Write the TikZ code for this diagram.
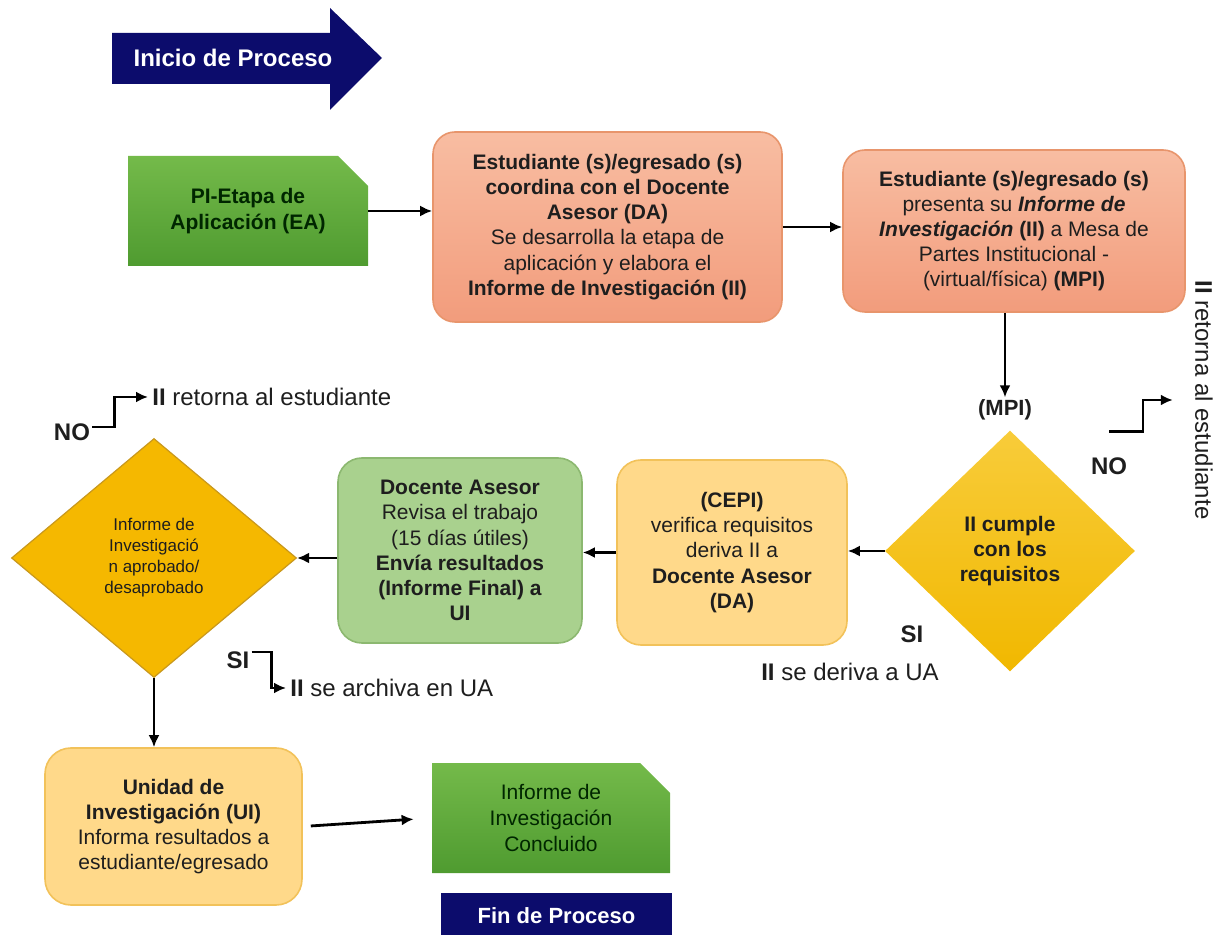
\documentclass[tikz,border=0pt]{standalone}
\usepackage{fontspec}
\setmainfont{Liberation Sans}
\usetikzlibrary{arrows.meta}
\usetikzlibrary{shapes.geometric}
\usetikzlibrary{shapes.misc}

\definecolor{navyblue}{HTML}{0C0C6C}
\definecolor{greentop}{HTML}{74BA4A}
\definecolor{greenbot}{HTML}{4F9B30}
\definecolor{salmontop}{HTML}{F8BDA2}
\definecolor{salmonbot}{HTML}{F29C7C}
\definecolor{salmonline}{HTML}{E8956C}
\definecolor{peach}{HTML}{FFD98A}
\definecolor{peachline}{HTML}{F2C25A}
\definecolor{sage}{HTML}{A9D18E}
\definecolor{sageline}{HTML}{8CB870}
\definecolor{goldtop}{HTML}{F8CC3A}
\definecolor{goldbot}{HTML}{F1B800}
\definecolor{amber}{HTML}{F5B800}
\definecolor{amberline}{HTML}{C9981C}
\definecolor{ink}{HTML}{1E1E1E}

\begin{document}
\begin{tikzpicture}[x=.5pt, y=-.5pt,
  txt/.style={font=\fontsize{10.5}{12.6}\selectfont, align=center, text=ink, inner sep=0pt},
  lbl/.style={font=\fontsize{12}{14}\selectfont, text=ink, inner sep=1pt},
  salmonbox/.style={txt, rounded corners=11pt, draw=salmonline, line width=.8pt, top color=salmontop, bottom color=salmonbot},
  peachbox/.style={txt, rounded corners=12pt, draw=peachline, line width=.8pt, fill=peach},
  sagebox/.style={txt, rounded corners=12pt, draw=sageline, line width=.8pt, fill=sage},
  greenbox/.style={txt, chamfered rectangle, chamfered rectangle corners=north east, chamfered rectangle xsep=6.5pt, chamfered rectangle ysep=8.5pt, top color=greentop, bottom color=greenbot, text=black!85!green},
  golddia/.style={txt, diamond, top color=goldtop, bottom color=goldbot},
  amberdia/.style={txt, diamond, fill=amber, draw=amberline, line width=.6pt},
  conn/.style={line width=1.4pt, -{Latex[length=6pt,width=5.5pt]}}]

\useasboundingbox (0,0) rectangle (1222,935);

\fill[navyblue] (112,33) -- (330,33) -- (330,8) -- (382,58) -- (330,110) -- (330,84) -- (112,84) -- cycle;
\node[lbl, text=white, font=\bfseries\fontsize{12}{14}\selectfont] (inicio) at (233,58) {Inicio de Proceso};

\node[greenbox, minimum width=120pt, minimum height=55pt] (etapa) at (248,211) {\textbf{PI-Etapa de}\\\textbf{Aplicación (EA)}};

\node[salmonbox, minimum width=174.5pt, minimum height=95pt] (coordina) at (607.5,227) {\textbf{Estudiante (s)/egresado (s)}\\\textbf{coordina con el Docente}\\\textbf{Asesor (DA)}\\Se desarrolla la etapa de\\aplicación y elabora el\\\textbf{Informe de Investigación (II)}};

\node[salmonbox, minimum width=171pt, minimum height=81pt] (presenta) at (1014,231) {\textbf{Estudiante (s)/egresado (s)}\\presenta su \textbf{\textit{Informe de}}\\\textbf{\textit{Investigación}} \textbf{(II)} a Mesa de\\Partes Institucional -\\(virtual/física) \textbf{(MPI)}};

\node[lbl, font=\bfseries\fontsize{11}{13}\selectfont] (mpi) at (1005,410) {(MPI)};

\node[golddia, minimum width=125pt, minimum height=120.5pt] (cumple) at (1010,551) {\textbf{II cumple}\\\textbf{con los}\\\textbf{requisitos}};

\node[lbl, font=\bfseries\fontsize{12}{14}\selectfont] (no1) at (1109,466) {NO};
\node[lbl, rotate=-90] (retorna1) at (1204,400) {\textbf{II} retorna al estudiante};
\node[lbl, font=\bfseries\fontsize{12}{14}\selectfont] (si1) at (912,634) {SI};
\node[lbl] (deriva) at (850,672) {\textbf{II} se deriva a UA};

\node[peachbox, minimum width=115pt, minimum height=92.5pt] (cepi) at (732,552.5) {\textbf{(CEPI)}\\verifica requisitos\\deriva II a\\\textbf{Docente Asesor}\\\textbf{(DA)}};

\node[sagebox, minimum width=122pt, minimum height=92.5pt] (asesor) at (460,550.5) {\textbf{Docente Asesor}\\Revisa el trabajo\\(15 días útiles)\\\textbf{Envía resultados}\\\textbf{(Informe Final) a}\\\textbf{UI}};

\node[amberdia, minimum width=142.5pt, minimum height=119.5pt, font=\fontsize{8.5}{10.5}\selectfont] (dictamen) at (154,558) {Informe de\\Investigació\\n aprobado/\\desaprobado};

\node[lbl, font=\bfseries\fontsize{12}{14}\selectfont] (no2) at (72,432) {NO};
\node[lbl, anchor=west, inner sep=2pt] (retorna2) at (148,397) {\textbf{II} retorna al estudiante};
\node[lbl, font=\bfseries\fontsize{12}{14}\selectfont] (si2) at (238,660) {SI};
\node[lbl, anchor=west, inner sep=2pt] (archiva) at (286,688) {\textbf{II} se archiva en UA};

\node[peachbox, minimum width=128.5pt, minimum height=78.5pt, rounded corners=13pt] (unidad) at (173.5,826.5) {\textbf{Unidad de}\\\textbf{Investigación (UI)}\\Informa resultados a\\estudiante/egresado};

\node[greenbox, minimum width=119pt, minimum height=55pt, font=\fontsize{10.5}{13}\selectfont] (concluido) at (551,818) {Informe de\\Investigación\\Concluido};

\node[fill=navyblue, text=white, minimum width=115.5pt, minimum height=23pt, inner sep=0pt, font=\bfseries\fontsize{11}{13}\selectfont] (fin) at (556.5,916) {Fin de Proceso};

\foreach \a/\b in {etapa.east/coordina.west, coordina.east/presenta.west, cumple.west/cepi.east, cepi.west/asesor.east}
  \draw[conn] (\a) -- (\a -| \b);
\draw[conn] (dictamen.east -| asesor.west) -- (dictamen.east);
\draw[conn] (presenta.south -| mpi.north) -- (mpi.north);
\draw[conn] (dictamen.south) -- (dictamen.south |- unidad.north);
\draw[conn, shorten <=4pt, shorten >=9pt] (unidad.east) -- (concluido.west);

\draw[conn] ([yshift=12pt]no1.north) -- ++(34,0) |- ([xshift=-10pt]retorna1.south);
\draw[conn] ([yshift=2.5pt]no2.east) -- ++(22,0) |- (retorna2.west);
\draw[conn] ([yshift=4pt]si2.east) -- ++(20,0) |- (archiva.west);

\end{tikzpicture}
\end{document}
